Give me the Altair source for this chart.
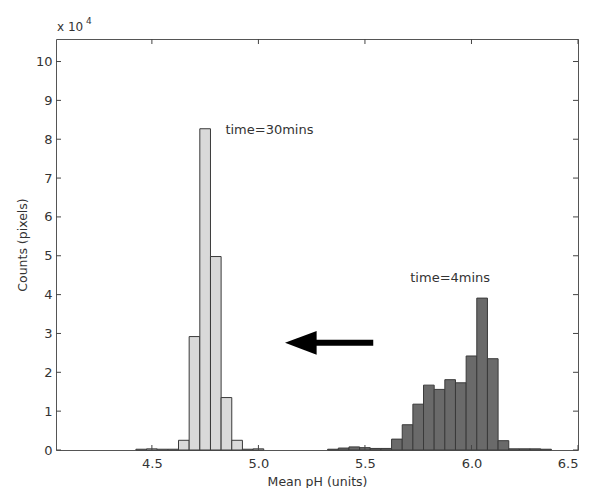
import altair as alt
import pandas as pd

# Histogram data (counts in units of 10^4 pixels), bin centres in pH
light_ph = [4.45, 4.50, 4.55, 4.60, 4.65, 4.70, 4.75, 4.80, 4.85, 4.90, 4.95, 5.00]
light_counts = [0.02, 0.03, 0.02, 0.02, 0.25, 2.92, 8.27, 4.98, 1.35, 0.25, 0.02, 0.03]

dark_ph = [5.35, 5.40, 5.45, 5.50, 5.55, 5.60, 5.65, 5.70, 5.75, 5.80, 5.85,
           5.90, 5.95, 6.00, 6.05, 6.10, 6.15, 6.20, 6.25, 6.30, 6.35]
dark_counts = [0.02, 0.05, 0.08, 0.06, 0.04, 0.04, 0.28, 0.65, 1.18, 1.67, 1.56,
               1.81, 1.73, 2.42, 3.91, 2.35, 0.24, 0.03, 0.03, 0.03, 0.02]

x_ticks = [4.5, 5.0, 5.5, 6.0, 6.5]
y_ticks = [0, 1, 2, 3, 4, 5, 6, 7, 8, 9, 10]

labels = ["time=30mins", "time=4mins"]
label_ph = [4.845, 5.90]
label_counts = [8.24, 4.43]

arrow_tail = [5.539]
arrow_head = [5.199]
arrow_level = [2.76]

W, H = 522, 411
FONT = "DejaVu Sans"
TXT = "#333333"

xscale = alt.Scale(domain=[4.05, 6.5], nice=False, zero=False)
yscale = alt.Scale(domain=[0, 10.58], nice=False, zero=False)

XA = alt.Axis(values=x_ticks, format=".1f", ticks=False, domain=False, grid=False,
              labelPadding=7, title="Mean pH (units)")
YA = alt.Axis(values=y_ticks, format="d", ticks=False, domain=False, grid=False,
              labelPadding=4, title="Counts (pixels)")


def X(field):
    return alt.X(field, scale=xscale, axis=XA)


def Y(field):
    return alt.Y(field, scale=yscale, axis=YA)


light_df = pd.DataFrame({"ph": light_ph, "count": light_counts})
dark_df = pd.DataFrame({"ph": dark_ph, "count": dark_counts})
xt_df = pd.DataFrame({"v": x_ticks})
yt_df = pd.DataFrame({"v": y_ticks})


def bars(df, fill):
    return alt.Chart(df).transform_calculate(
        lo="datum.ph - 0.025", hi="datum.ph + 0.025"
    ).mark_bar(fill=fill, stroke="#3a3a3a", strokeWidth=1).encode(
        x=X("lo:Q"), x2="hi:Q", y=Y("count:Q"), y2=alt.datum(0),
    )


light = bars(light_df, "#d9d9d9")
dark = bars(dark_df, "#6a6a6a")

tick_style = dict(color="#444444", strokeWidth=1)
xt_bottom = alt.Chart(xt_df).mark_rule(**tick_style).encode(
    x=X("v:Q"), y=alt.value(H), y2=alt.value(H - 5))
xt_top = alt.Chart(xt_df).mark_rule(**tick_style).encode(
    x=X("v:Q"), y=alt.value(0), y2=alt.value(5))
yt_left = alt.Chart(yt_df).mark_rule(**tick_style).encode(
    y=Y("v:Q"), x=alt.value(0), x2=alt.value(5))
yt_right = alt.Chart(yt_df).mark_rule(**tick_style).encode(
    y=Y("v:Q"), x=alt.value(W - 5), x2=alt.value(W))

lab_df = pd.DataFrame({"label": labels, "ph": label_ph, "count": label_counts})
lab30 = alt.Chart(lab_df.iloc[[0]]).mark_text(
    align="left", baseline="middle", font=FONT, fontSize=13, color=TXT
).encode(x=X("ph:Q"), y=Y("count:Q"), text="label:N")
lab4 = alt.Chart(lab_df.iloc[[1]]).mark_text(
    align="center", baseline="middle", font=FONT, fontSize=13, color=TXT
).encode(x=X("ph:Q"), y=Y("count:Q"), text="label:N")

arrow_df = pd.DataFrame({"tail": arrow_tail, "head": arrow_head, "level": arrow_level})
shaft = alt.Chart(arrow_df).mark_rule(color="black", strokeWidth=6).encode(
    x=X("head:Q"), x2="tail:Q", y=Y("level:Q"))
head = alt.Chart(arrow_df).mark_point(
    shape="M -1 0 L 1 -0.75 L 1 0.75 Z", size=1000, filled=True, fill="black",
    opacity=1, strokeWidth=0
).encode(x=X("head:Q"), y=Y("level:Q"))

exp_base = alt.Chart(pd.DataFrame({"t": ["x 10"]})).mark_text(
    align="left", baseline="middle", font=FONT, fontSize=12, color=TXT
).encode(x=alt.value(1), y=alt.value(-12), text="t:N")
exp_pow = alt.Chart(pd.DataFrame({"t": ["4"]})).mark_text(
    align="left", baseline="middle", font=FONT, fontSize=9, color=TXT
).encode(x=alt.value(30), y=alt.value(-18), text="t:N")

chart = alt.layer(
    light, dark, xt_bottom, xt_top, yt_left, yt_right, lab30, lab4, shaft, head,
    exp_base, exp_pow
).properties(
    width=W, height=H,
    autosize=alt.AutoSizeParams(type="none"),
    padding={"left": 48, "top": 31, "right": 4, "bottom": 38},
).configure_view(
    stroke="#555555", strokeWidth=1
).configure_axis(
    labelFont=FONT, labelFontSize=13, labelColor=TXT,
    titleFont=FONT, titleFontSize=12.5, titleFontWeight="normal", titleColor=TXT,
).configure_axisX(titlePadding=5).configure_axisY(titlePadding=6)

chart.save("out.html", embed_options={"renderer": "svg", "actions": False})
